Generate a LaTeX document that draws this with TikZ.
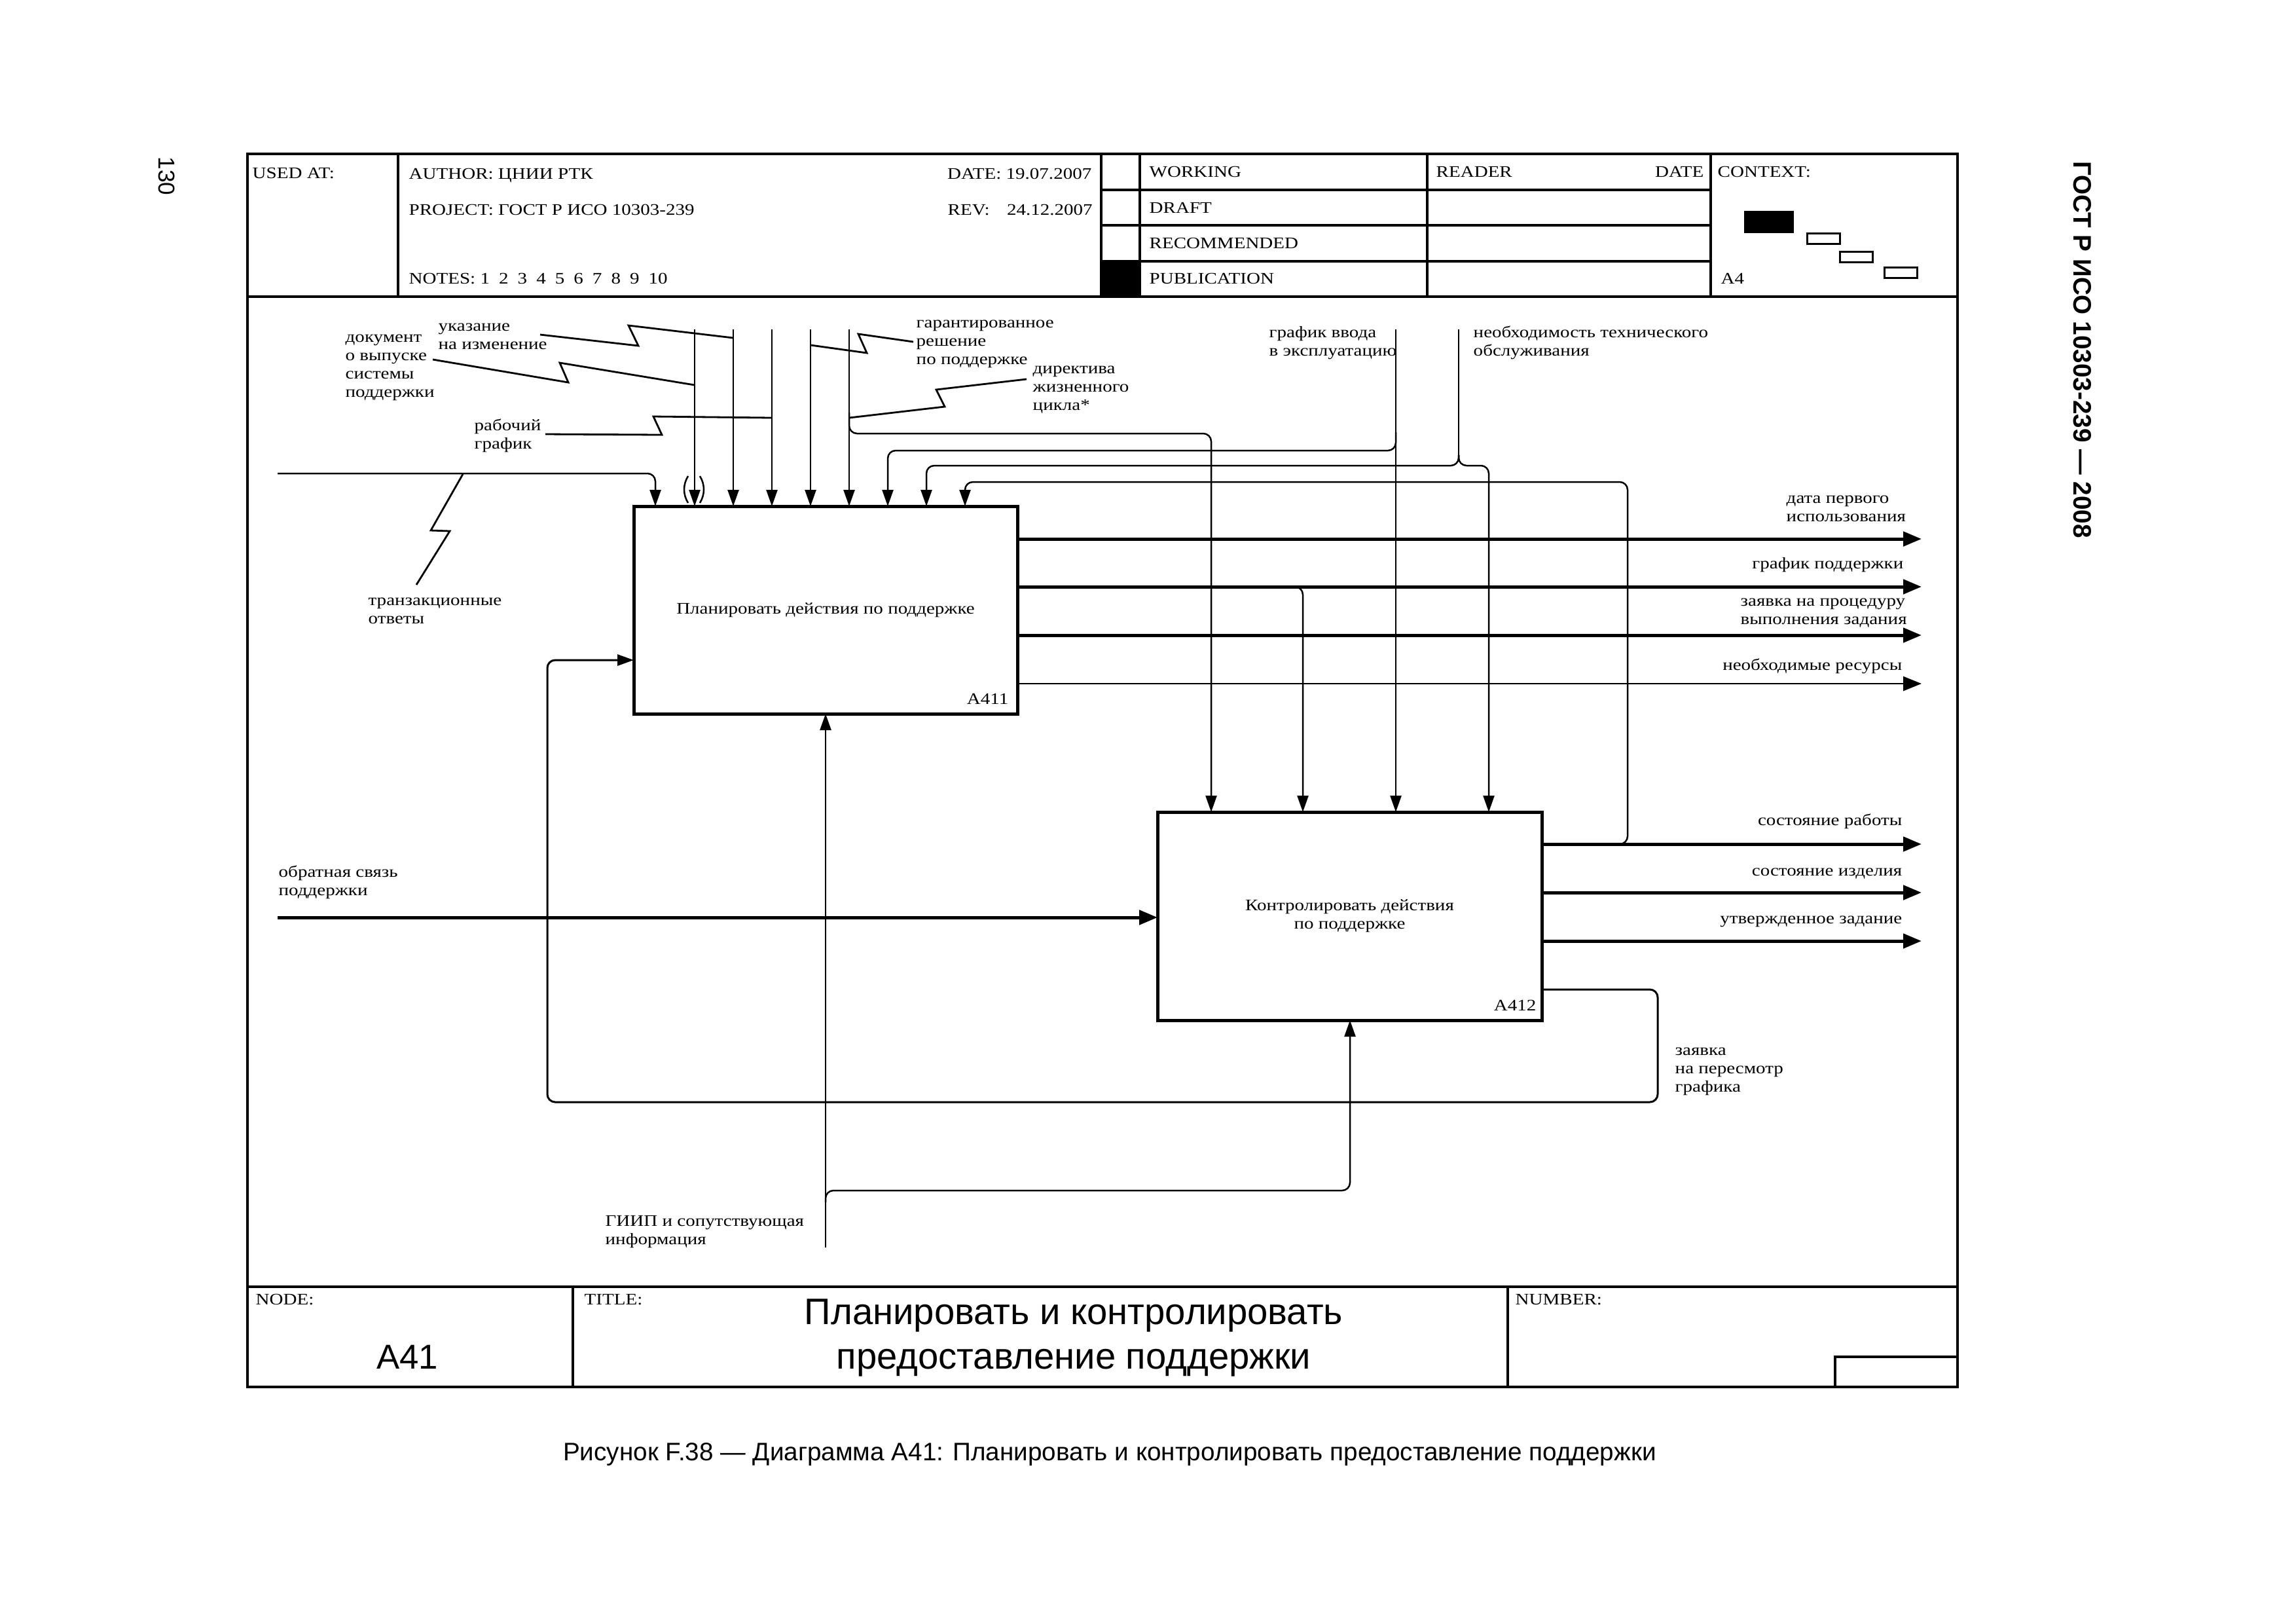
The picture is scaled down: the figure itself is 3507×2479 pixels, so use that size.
\documentclass[tikz,border=0pt]{standalone}
\usepackage{fontspec}
\setmainfont{Liberation Serif}
\newfontfamily\lbf[FakeStretch=1.18]{Liberation Serif}
\newfontfamily\sansf{Liberation Sans}
\usetikzlibrary{arrows.meta}
\begin{document}
\begin{tikzpicture}[x=0.1mm,y=-0.1mm,
  frame/.style={line width=0.45mm},
  lbl/.style={inner sep=0pt,font=\lbf\fontsize{7}{8}\selectfont},
  lblL/.style={lbl,align=left,anchor=north west},
  lblR/.style={lbl,align=right,anchor=north east},
  hdr/.style={lbl,anchor=base west},
  hdrR/.style={lbl,anchor=base east},
  proc/.style={draw,line width=0.5mm,inner sep=0pt,align=center,font=\lbf\fontsize{7}{8}\selectfont},
  conn/.style={line width=0.25mm,rounded corners=1.2mm},
  thickconn/.style={line width=0.5mm},
  sq/.style={line width=0.28mm},
  tipd/.style={-{Triangle[length=2.5mm,width=1.7mm]}},
  tipo/.style={-{Triangle[length=2.8mm,width=2.2mm]}}]
\fill[white] (0,0) rectangle (3507,2479);
\useasboundingbox (0,0) rectangle (3507,2479);

% ---------- frame ----------
\draw[frame] (378,235) rectangle (2990,2118);
\draw[frame] (378,453) -- (2990,453);
\draw[frame] (378,1965) -- (2990,1965);
\draw[frame] (608,235) -- (608,453);
\draw[frame] (1682,235) -- (1682,453);
\draw[frame] (1741,235) -- (1741,453);
\draw[frame] (2180,235) -- (2180,453);
\draw[frame] (2613,235) -- (2613,453);
\draw[frame] (1682,290) -- (2613,290);
\draw[frame] (1682,344) -- (2613,344);
\draw[frame] (1682,399) -- (2613,399);
\fill (1682,399) rectangle (1741,453);
\draw[frame] (875,1965) -- (875,2118);
\draw[frame] (2303,1965) -- (2303,2118);
\draw[frame] (2803,2118) |- (2990,2072);
% context icons
\fill (2664,322) rectangle (2740,356);
\draw[line width=0.3mm] (2760,356) rectangle (2810,372);
\draw[line width=0.3mm] (2810,384) rectangle (2860,400);
\draw[line width=0.3mm] (2878,408) rectangle (2928,424);

% header texts
\node[hdr] (usedat) at (385,272) {USED AT:};
\node[hdr] (author) at (624,273) {AUTHOR: ЦНИИ РТК};
\node[hdr] (project) at (624,328) {PROJECT: ГОСТ Р ИСО 10303-239};
\node[hdr] (notes) at (624,433) {NOTES: 1\hspace{4pt}2\hspace{4pt}3\hspace{4pt}4\hspace{4pt}5\hspace{4pt}6\hspace{4pt}7\hspace{4pt}8\hspace{4pt}9\hspace{4pt}10};
\node[hdrR] (date) at (1668,273) {DATE: 19.07.2007};
\node[hdr,text width=22.1mm] (rev) at (1447,328) {REV:\hfill 24.12.2007};
\node[hdr] (working) at (1755,270) {WORKING};
\node[hdr] (draft) at (1755,325) {DRAFT};
\node[hdr] (recom) at (1755,379) {RECOMMENDED};
\node[hdr] (public) at (1755,433) {PUBLICATION};
\node[hdr] (reader) at (2193,270) {READER};
\node[hdrR] (rdate) at (2603,270) {DATE};
\node[hdr] (context) at (2623,270) {CONTEXT:};
\node[hdr] (ctxa4) at (2628,433) {A4};
% footer texts
\node[hdr] (nodel) at (390,1992) {NODE:};
\node[hdr] (titlel) at (892,1992) {TITLE:};
\node[hdr] (numberl) at (2314,1992) {NUMBER:};
\node[inner sep=0pt,anchor=base,font=\sansf\fontsize{15}{18}\selectfont] (nodeid) at (622,2090) {A41};
\node[inner sep=0pt,anchor=north,align=center,font=\sansf\fontsize{16}{19.4}\selectfont] (title) at (1640,1974) {\strut Планировать и контролировать\\предоставление поддержки};
% caption and margins
\node[inner sep=0pt,anchor=base,font=\sansf\fontsize{11}{13}\selectfont] (caption) at (1695,2230) {Рисунок F.38 — Диаграмма A41: Планировать и контролировать предоставление поддержки};
\node[inner sep=0pt,rotate=-90,font=\sansf\fontsize{10}{12}\selectfont] (page) at (255,269) {130};
\node[inner sep=0pt,rotate=-90,font=\sansf\bfseries\fontsize{11}{13}\selectfont] (std) at (3181,534) {ГОСТ Р ИСО 10303-239 — 2008};

% ---------- boxes ----------
\node[proc,minimum width=58.6mm,minimum height=31.7mm] (b1) at (1261,931.5) {Планировать действия по поддержке};
\node[hdrR] (b1id) at (1541,1075) {A411};
\node[proc,minimum width=58.7mm,minimum height=31.8mm] (b2) at (2061.5,1399) {Контролировать действия\\по поддержке};
\node[hdrR] (b2id) at (2347,1543) {A412};

% ---------- ports ----------
\foreach \n/\x in {1/1001,2/1061,3/1120,4/1179,5/1238,6/1297,7/1356,8/1415,9/1474}
  \coordinate (p\n) at (\x,773);
\foreach \n/\x in {1/1850,2/1990,3/2132,4/2274}
  \coordinate (q\n) at (\x,1240);
\foreach \x in {1061,1120,1179,1238,1297,2132,2228}
  \coordinate (s\x) at (\x,503);
\coordinate (b1in) at (968,1008);
\coordinate (b2in) at (1768,1401);
\coordinate (b1m) at (1261,1090);
\coordinate (b2m) at (2062,1558);
\foreach \n/\y in {a/823,b/896,c/970,d/1044} {
  \coordinate (o1\n) at (1554,\y);
  \coordinate (e1\n) at (2935,\y);
}
\foreach \n/\y in {a/1289,b/1363,c/1437,d/1511} {
  \coordinate (o2\n) at (2355,\y);
  \coordinate (e2\n) at (2935,\y);
}
\coordinate (lin1) at (424,723);
\coordinate (lin2) at (424,1401);
\coordinate (mech) at (1261,1905);
\coordinate (j1297) at (1297,630);
\coordinate (k1850) at (1850,662);
\coordinate (j2132) at (2132,660);
\coordinate (k1356) at (1356,688);
\coordinate (j2228) at (2228,695);
\coordinate (k1415) at (1415,711);
\coordinate (k2274) at (2274,711);
\coordinate (j2468) at (2466,1289);
\coordinate (k2486) at (2486,736);
\coordinate (j1976) at (1974,896);
\coordinate (k2532) at (2532,1683);
\coordinate (k836) at (836,1683);
\coordinate (j1261) at (1261,1836);
\coordinate (k2062) at (2062,1818);

% ---------- connectors ----------
\draw[conn,tipd] (lin1) -| (p1);
\foreach \x/\n in {1061/2,1120/3,1179/4,1238/5,1297/6}
  \draw[conn,tipd] (s\x) -- (p\n);
\draw[conn,tipd] (j1297) |- (k1850) -- (q1);
\draw[conn,tipd] (s2132) -- (q3);
\draw[conn,tipd] (j2132) |- (k1356) -- (p7);
\draw[conn] (s2228) -- (j2228);
\draw[conn,tipd] (j2228) |- (k1415) -- (p8);
\draw[conn,tipd] (j2228) |- (k2274) -- (q4);
\draw[conn,tipd] (j2468) -| (k2486) -| (p9);
\draw[conn,tipd] (j1976) -| (q2);
\draw[conn,line width=0.3mm,tipd] (o2d) -| (k2532) -- (k836) |- (b1in);
\draw[conn,tipd] (mech) -- (b1m);
\draw[conn,tipd] (j1261) |- (k2062) -- (b2m);
\draw[thickconn,tipo] (lin2) -- (b2in);
\draw[thickconn,tipo] (o1a) -- (e1a);
\draw[thickconn,tipo] (o1b) -- (e1b);
\draw[thickconn,tipo] (o1c) -- (e1c);
\draw[conn,tipo] (o1d) -- (e1d);
\draw[thickconn,tipo] (o2a) -- (e2a);
\draw[thickconn,tipo] (o2b) -- (e2b);
\draw[thickconn,tipo] (o2c) -- (e2c);
% tunnel
\draw[line width=0.25mm] (1051,727) .. controls (1043,740) and (1043,755) .. (1051,768);
\draw[line width=0.25mm] (1069,727) .. controls (1077,740) and (1077,755) .. (1069,768);

% ---------- labels & squiggles ----------
\node[lblL] (l1) at (669,485) {\strut указание\\на изменение};
\coordinate (z1) at (825,511); \coordinate (z1e) at (1120,516);
\draw[sq] (z1) -- (975,528) -- (960,497) -- (z1e);

\node[lblL] (l2) at (527,502) {\strut документ\\о выпуске\\системы\\поддержки};
\coordinate (z2) at (661,549); \coordinate (z2e) at (1061,588);
\draw[sq] (z2) -- (868,584) -- (855,554) -- (z2e);

\node[lblL] (l3) at (724,637) {\strut рабочий\\график};
\coordinate (z3) at (833,663); \coordinate (z3e) at (1179,638);
\draw[sq] (z3) -- (1011,664) -- (998,636) -- (z3e);

\node[lblL] (l4) at (1399,480) {\strut гарантированное\\решение\\по поддержке};
\coordinate (z4) at (1395,522); \coordinate (z4e) at (1238,527);
\draw[sq] (z4) -- (1311,510) -- (1324,539) -- (z4e);

\node[lblL] (l5) at (1577,550) {\strut директива\\жизненного\\цикла*};
\coordinate (z5) at (1568,579); \coordinate (z5e) at (1297,638);
\draw[sq] (z5) -- (1430,595) -- (1443,621) -- (z5e);

\node[lblL] (l6) at (1938,495) {\strut график ввода\\в эксплуатацию};
\node[lblL] (l7) at (2250,495) {\strut необходимость технического\\обслуживания};

\node[lblL] (l8) at (562,904) {\strut транзакционные\\ответы};
\coordinate (z8) at (707,724); \coordinate (z8e) at (636,893);
\draw[sq] (z8) -- (658,810) -- (687,811) -- (z8e);

\node[lblL] (l9) at (425,1319) {\strut обратная связь\\поддержки};
\node[lblL] (l10) at (924,1852) {\strut ГИИП и сопутствующая\\информация};
\node[lblL] (l11) at (2558,1591) {\strut заявка\\на пересмотр\\графика};

\node[lblL] (l12) at (2728,748) {\strut дата первого\\использования};
\node[lblR] (l13) at (2908,848) {\strut график поддержки};
\node[lblL] (l14) at (2658,905) {\strut заявка на процедуру\\выполнения задания};
\node[lblR] (l15) at (2906,1003) {\strut необходимые ресурсы};
\node[lblR] (l16) at (2906,1240) {\strut состояние работы};
\node[lblR] (l17) at (2906,1317) {\strut состояние изделия};
\node[lblR] (l18) at (2906,1390) {\strut утвержденное задание};
\end{tikzpicture}
\end{document}
